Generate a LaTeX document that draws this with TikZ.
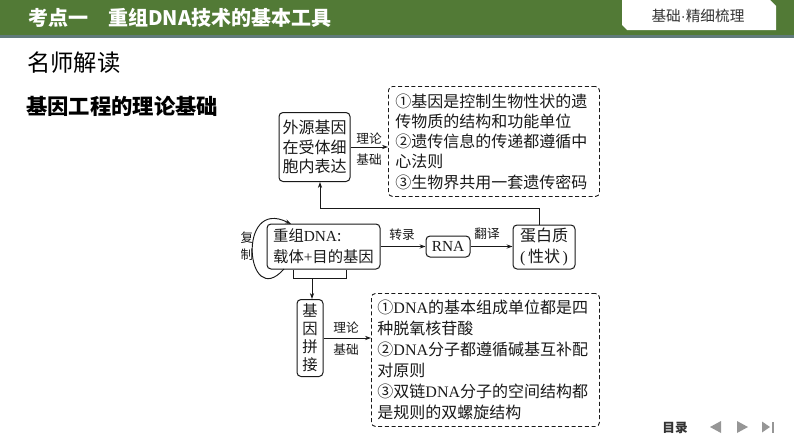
\documentclass[tikz,border=0pt]{standalone}
\usepackage{fontspec}
\setmainfont{Liberation Serif}
\newfontfamily\cjk{Noto Sans CJK SC}
\newfontfamily\lsans{Liberation Sans}
\usetikzlibrary{arrows.meta}
\newcommand\myfs[2]{\fontsize{#1}{#2}\selectfont}
\newcommand\en[1]{{\rmfamily #1}}
\definecolor{hdr}{RGB}{82,122,54}
\definecolor{stripe}{RGB}{96,122,122}
\definecolor{navgray}{RGB}{150,150,150}
\definecolor{txt}{RGB}{25,25,25}
\tikzset{
  sbox/.style={draw=txt, line width=0.75pt, rounded corners=3pt, inner sep=0pt, align=center, text=txt},
  dbox/.style={draw=txt, line width=0.7pt, dash pattern=on 3pt off 2pt, rounded corners=3pt, align=left, text=txt},
  arr/.style={-{Stealth[length=4.5pt,width=3.2pt]}, line width=0.7pt, draw=txt},
  ln/.style={line width=0.7pt, draw=txt},
  lbl/.style={font=\cjk\myfs{9.5}{11}, text=txt, inner sep=0pt}
}
\begin{document}
\begin{tikzpicture}[x=0.75pt,y=-0.75pt]
\path[use as bounding box] (0,0) rectangle (794,447);
% header
\fill[hdr] (0,0) rectangle (794,35);
\fill[stripe] (0,35) rectangle (794,38);
\fill[white] (622,0) -- (770,0) -- (776,6) -- (776,30) -- (627,30) -- (622,25) -- cycle;
\node[font=\cjk\myfs{11}{13}, text=black!80, inner sep=0pt] (tab) at (698,16) {基础{\lsans ·}精细梳理};
\node[font=\cjk\bfseries\myfs{15}{17}, text=white, anchor=west, inner sep=0pt] (title) at (28,18) {考点一\hspace{1em}重组DNA技术的基本工具};
\node[font=\cjk\myfs{17.5}{20}, text=black, anchor=west, inner sep=0pt] (mszd) at (27,63) {名师解读};
\node[font=\cjk\bfseries\myfs{16}{18}, text=black, anchor=west, inner sep=0pt] (jcjc) at (26,106) {基因工程的理论基础};
% diagram boxes
\node[sbox, font=\cjk\myfs{12}{14.5}, minimum width=53.25pt, minimum height=51.75pt] (wy) at (314.5,147) {外源基因\\在受体细\\胞内表达};
\node[dbox, font=\cjk\myfs{12}{15.2}, anchor=north west, minimum width=158.25pt, minimum height=82.5pt, text width=147.75pt, inner xsep=5.25pt, inner ysep=0pt] (d1) at (388,86)
 {①基因是控制生物性状的遗\\传物质的结构和功能单位\\②遗传信息的传递都遵循中\\心法则\\③生物界共用一套遗传密码};
\node[sbox, align=left, font=\cjk\myfs{11.5}{15.75}, minimum width=84.75pt, minimum height=33.75pt] (jz) at (323.5,246.5) {重组\en{DNA}:\\载体\en{+}目的基因};
\node[sbox, font=\rmfamily\myfs{11.5}{13}, minimum width=33pt, minimum height=15.75pt] (rna) at (448,246.5) {RNA};
\node[sbox, font=\cjk\myfs{12}{15.75}, minimum width=46.5pt, minimum height=33pt] (dbz) at (544,247) {蛋白质\\\en{(}\,性状\,\en{)}};
\node[sbox, font=\cjk\myfs{11.5}{13.5}, minimum width=19.5pt, minimum height=57.75pt] (jy) at (310,338) {基\\因\\拼\\接};
\node[dbox, font=\cjk\myfs{12}{15.75}, anchor=north west, minimum width=171pt, minimum height=99.75pt, text width=162pt, inner xsep=4.5pt, inner ysep=0pt] (d2) at (371,293)
 {①\en{DNA}的基本组成单位都是四\\种脱氧核苷酸\\②\en{DNA}分子都遵循碱基互补配\\对原则\\③双链\en{DNA}分子的空间结构都\\是规则的双螺旋结构};
% labels
\node[lbl] (l1a) at (369,139) {理论};
\node[lbl] (l1b) at (369,160) {基础};
\node[lbl] (l2a) at (346,328) {理论};
\node[lbl] (l2b) at (346,350) {基础};
\node[lbl] (zl) at (402,235) {转录};
\node[lbl] (fy) at (487,234) {翻译};
\node[lbl] (fz1) at (247,238) {复};
\node[lbl] (fz2) at (247,255) {制};
% connectors
\draw[arr] (wy.east) -- (wy.east -| d1.west);
\draw[arr] (jy.east) -- (jy.east -| d2.west);
\draw[arr] (jz.east) -- (rna.west);
\draw[arr] (rna.east) -- (rna.east -| dbz.west);
\coordinate (pc) at (539,208);
\coordinate (up) at (320,208);
\draw[arr] (pc |- dbz.north) -- (pc) -- (up) -- (up |- wy.south);
\coordinate (bl) at (293,278);
\coordinate (br) at (346,278);
\coordinate (bm) at (312,278);
\draw[ln] (bl |- jz.south) -- (bl) -- (br) -- (br |- jz.south);
\draw[arr] (bm) -- (bm |- jy.north);
\coordinate (ls) at (284,269);
\coordinate (le) at (291,224);
\draw[arr] (ls) .. controls (246,312) and (236,196) .. (le);
% footer
\node[font=\cjk\bfseries\myfs{9.5}{11}, text=black!80, inner sep=0pt] (ml) at (675,428) {目录};
\fill[navgray] (721,421) -- (710,427) -- (721,433) -- cycle;
\fill[navgray] (737,421) -- (748,427) -- (737,433) -- cycle;
\fill[navgray] (762,421.5) -- (770,427) -- (762,432.5) -- cycle;
\fill[navgray] (772,421.5) rectangle (774,432.5);
\end{tikzpicture}
\end{document}
